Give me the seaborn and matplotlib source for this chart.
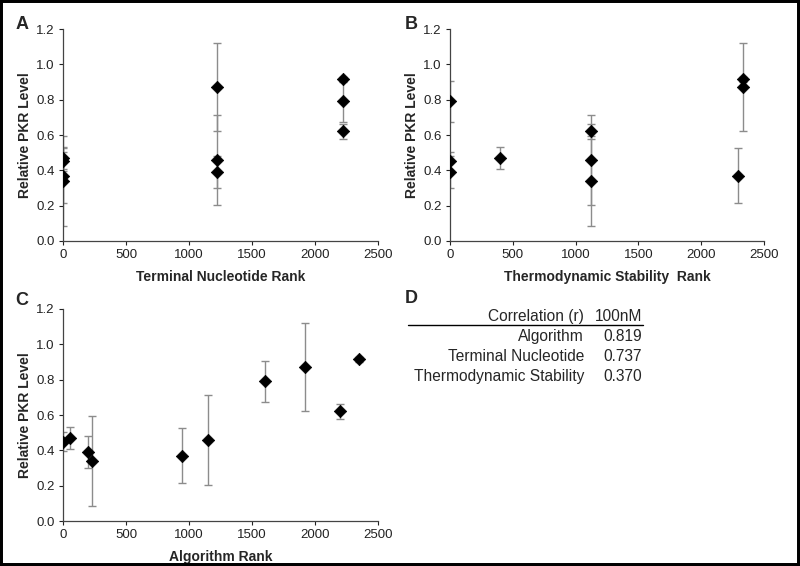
import matplotlib
matplotlib.use("Agg")
import matplotlib.pyplot as plt
import seaborn as sns
import pandas as pd
from matplotlib.lines import Line2D
from matplotlib.patches import Rectangle

# Relative PKR level per construct (mean and error)
pkr_level = [0.45, 0.47, 0.39, 0.34, 0.37, 0.46, 0.79, 0.87, 0.62, 0.915]
pkr_err = [0.055, 0.063, 0.09, 0.255, 0.155, 0.255, 0.115, 0.25, 0.045, 0.015]

# Ranks of each construct under the three scoring methods
algorithm_rank = [0, 55, 200, 230, 945, 1150, 1600, 1920, 2200, 2350]
terminal_rank = [0, 0, 1225, 0, 0, 1225, 2220, 1225, 2220, 2220]
thermo_rank = [0, 400, 0, 1125, 2290, 1125, 0, 2335, 1125, 2335]

# Correlation table (panel D)
table_methods = ["Algorithm", "Terminal Nucleotide", "Thermodynamic Stability"]
table_r = ["0.819", "0.737", "0.370"]

df = pd.DataFrame({
    "level": pkr_level, "err": pkr_err,
    "algo": algorithm_rank, "term": terminal_rank, "thermo": thermo_rank,
})

sns.set_style("white")
plt.rcParams["font.family"] = ["Liberation Sans", "DejaVu Sans"]

W, H = 800, 566
fig = plt.figure(figsize=(8, 5.66), dpi=100)


def px(x0, y0, x1, y1):
    return [x0 / W, 1 - y1 / H, (x1 - x0) / W, (y1 - y0) / H]


def panel(rect, col, xlabel):
    ax = fig.add_axes(rect)
    ax.errorbar(df[col], df["level"], yerr=df["err"], fmt="none",
                ecolor="#8c8c8c", elinewidth=1, capsize=3, capthick=1, zorder=1)
    sns.scatterplot(data=df, x=col, y="level", marker="D", s=40,
                    color="black", edgecolor="black", ax=ax, zorder=3)
    ax.set_xlim(0, 2500)
    ax.set_ylim(0, 1.2)
    ax.set_xticks(range(0, 2501, 500))
    ax.set_yticks([0, 0.2, 0.4, 0.6, 0.8, 1.0, 1.2])
    ax.set_yticklabels([f"{v:.1f}" for v in ax.get_yticks()])
    ax.set_xlabel(xlabel, fontsize=10, fontweight="bold", labelpad=6)
    ax.set_ylabel("Relative PKR Level", fontsize=10, fontweight="bold", labelpad=3)
    ax.tick_params(axis="both", labelsize=9.5, colors="#222222", direction="out",
                   length=3, width=0.8, left=True, bottom=True, pad=3)
    for s in ["top", "right"]:
        ax.spines[s].set_visible(False)
    for s in ["left", "bottom"]:
        ax.spines[s].set_color("#444444")
        ax.spines[s].set_linewidth(0.9)
    return ax


axA = panel(px(63, 29, 378, 241), "term", "Terminal Nucleotide Rank")
axB = panel(px(450, 29, 764, 241), "thermo", "Thermodynamic Stability  Rank")
axC = panel(px(63, 309, 378, 521), "algo", "Algorithm Rank")

# panel letters
for letter, x, y in [("A", 22, 29), ("B", 411, 29), ("C", 22, 305), ("D", 411, 303)]:
    fig.text(x / W, 1 - y / H, letter, fontsize=13, fontweight="bold",
             ha="center", va="baseline")

# correlation table
tf = 11.2
fig.text(584 / W, 1 - 321 / H, "Correlation (r)", fontsize=tf, ha="right", va="baseline")
fig.text(642 / W, 1 - 321 / H, "100nM", fontsize=tf, ha="right", va="baseline")
fig.add_artist(Line2D([408 / W, 643 / W], [1 - 324.5 / H, 1 - 324.5 / H],
                      color="black", linewidth=1, transform=fig.transFigure))
for i, (m, r) in enumerate(zip(table_methods, table_r)):
    yb = 341 + 20 * i
    fig.text(584 / W, 1 - yb / H, m, fontsize=tf, ha="right", va="baseline")
    fig.text(642 / W, 1 - yb / H, r, fontsize=tf, ha="right", va="baseline")

# outer frame
fig.add_artist(Rectangle((0, 0), 1, 1, fill=False, edgecolor="black",
                         linewidth=4.3, transform=fig.transFigure))

fig.savefig("out.png", dpi=100)
